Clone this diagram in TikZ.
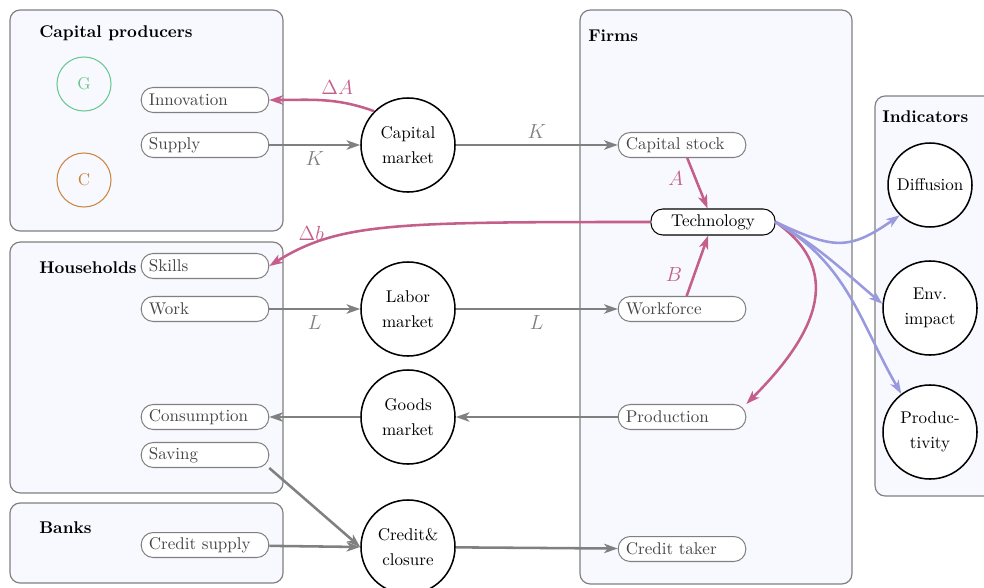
\documentclass[tikz,border=0pt]{standalone}
\usetikzlibrary{positioning, arrows.meta}

\definecolor{boxfill}{RGB}{248,248,255}
\definecolor{flowgray}{RGB}{128,128,128}
\definecolor{techpink}{RGB}{196,94,138}
\definecolor{indblue}{RGB}{153,153,221}
\definecolor{gcol}{RGB}{102,200,140}
\definecolor{ccol}{RGB}{200,132,60}
\definecolor{pilltext}{RGB}{70,70,70}

\tikzset{
	groupbox/.style={draw=flowgray, line width=0.7pt, fill=boxfill, rounded corners=6pt},
	grouptitle/.style={font=\bfseries, anchor=west, inner sep=0pt},
	pill/.style={draw=flowgray, line width=0.6pt, fill=white, rounded corners=7pt, text width=66pt, inner xsep=4.5pt, inner ysep=0pt, minimum height=14.7pt, align=left, text=pilltext},
	mkt/.style={draw, circle, line width=0.9pt, fill=white, minimum size=55.3pt, inner sep=0pt, align=center},
	agent/.style={draw, circle, line width=0.6pt, minimum size=31.8pt, inner sep=0pt},
	flow/.style={draw=flowgray, line width=1.5pt, -{Stealth[length=8pt, width=5.5pt, inset=2.2pt]}},
	tflow/.style={flow, draw=techpink},
	iflow/.style={flow, draw=indblue},
	qty/.style={font=\large, text=flowgray},
	tqty/.style={font=\large, text=techpink}
}

\begin{document}
\begin{tikzpicture}[x=0.5882pt, y=-0.5882pt]
	\useasboundingbox (0,0) rectangle (984,587);
	\node [groupbox, minimum width=160.6pt, minimum height=130pt] (B1) at (146.5,120.5) {};
	\node [groupbox, minimum width=160.6pt, minimum height=147.6pt] (B2) at (146.5,367.5) {};
	\node [groupbox, minimum width=160.6pt, minimum height=47.1pt] (B3) at (146.5,543) {};
	\node [groupbox, minimum width=160pt, minimum height=337.6pt] (B4) at (716,297) {};
	\node [groupbox, minimum width=73.5pt, minimum height=235.3pt] (B5) at (937.5,296) {};
	\node [grouptitle] (T1) at (39,33) {Capital producers};
	\node [grouptitle] (T2) at (39,268) {Households};
	\node [grouptitle] (T3) at (39,528) {Banks};
	\node [grouptitle] (T4) at (588,36) {Firms};
	\node [grouptitle] (T5) at (882,117) {Indicators};
	\node [agent, draw=gcol, text=gcol] (G) at (84,84) {G};
	\node [agent, draw=ccol, text=ccol] (C) at (84,180) {C};
	\node [pill] (P1) at (205,100) {Innovation};
	\node [pill] (P2) at (205,145) {Supply};
	\node [pill] (P3) at (205,266) {Skills};
	\node [pill] (P4) at (205,309) {Work};
	\node [pill] (P5) at (205,417) {Consumption};
	\node [pill] (P6) at (205,455) {Saving};
	\node [pill] (P7) at (205,545) {Credit supply};
	\node [pill] (F1) at (682,145) {Capital stock};
	\node [pill] (F2) at (682,309) {Workforce};
	\node [pill] (F3) at (682,417) {Production};
	\node [pill] (F4) at (682,549) {Credit taker};
	\node [pill, draw=black, text=black, align=center, text width=64pt, minimum height=15.3pt] (TE) at (713,222) {Technology};
	\node [mkt] (M1) at (408,145) {Capital\\[3pt]market};
	\node [mkt] (M2) at (408,309) {Labor\\[3pt]market};
	\node [mkt] (M3) at (408,417) {Goods\\[3pt]market};
	\node [mkt] (M4) at (408,547) {Credit\&\\[3pt]closure};
	\node [mkt, minimum size=49.4pt] (I1) at (930,185) {Diffusion};
	\node [mkt] (I2) at (930,308) {Env.\\[3pt]impact};
	\node [mkt] (I3) at (930,432) {Produc-\\[3pt]tivity};

	\draw [flow] (P2) -- node [qty, below] {$K$} (M1);
	\draw [flow] (M1) -- node [qty, above] {$K$} (F1);
	\draw [flow] (P4) -- node [qty, below] {$L$} (M2);
	\draw [flow] (M2) -- node [qty, below] {$L$} (F2);
	\draw [flow] (F3) -- (M3);
	\draw [flow] (M3) -- (P5);
	\draw [flow] (P6.south east) -- (M4.west);
	\draw [flow] (P7) -- (M4.west);
	\draw [flow] (M4) -- (F4);
	\draw [tflow] (M1.135) to [out=160, in=0] node [tqty, pos=0.35, above] {$\Delta A$} (P1.east);
	\draw [tflow] (F1) -- node [tqty, pos=0.4, left=3pt] {$A$} (TE);
	\draw [tflow] (F2) -- node [tqty, pos=0.35, left=3pt] {$B$} (TE);
	\draw [tflow] (TE.west) to [out=180, in=32, out looseness=1.7, in looseness=0.55] node [tqty, pos=0.8, above, inner sep=1.5pt] {$\Delta b$} (P3.east);
	\draw [tflow] (TE.east) to [out=-35, in=45, looseness=1.25] (F3.north east);
	\draw [iflow] (TE.east) to [out=-25, in=215, looseness=1.3] (I1.225);
	\draw [iflow] (TE.east) to [out=-30, in=140] (I2.175);
	\draw [iflow] (TE.east) to [out=-30, in=120] (I3.127);
\end{tikzpicture}
\end{document}
